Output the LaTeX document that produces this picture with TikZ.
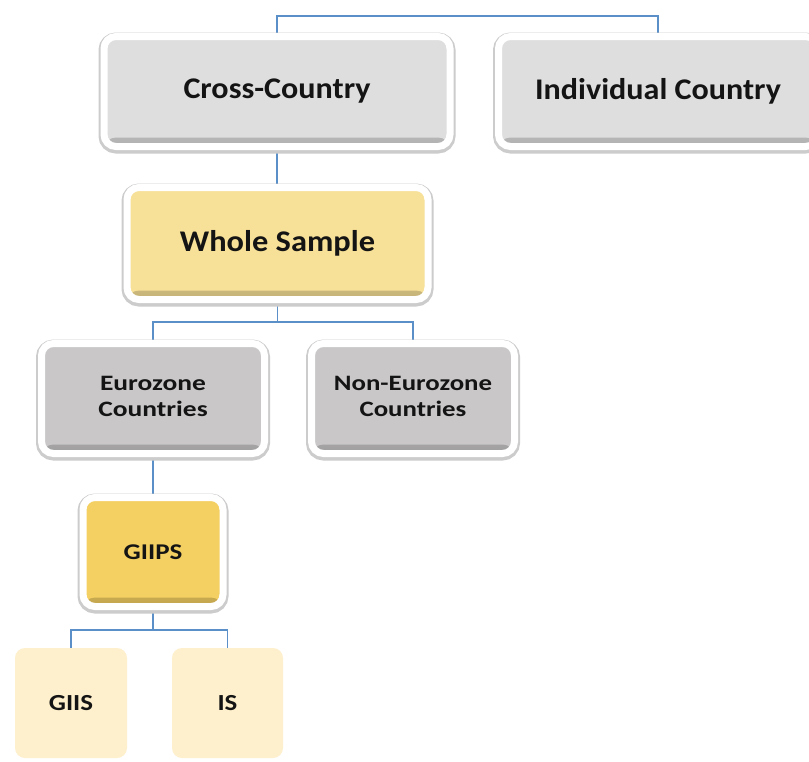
\documentclass[tikz,border=0pt]{standalone}
\usepackage{fontspec}
\setmainfont{Carlito}
\usetikzlibrary{backgrounds}
\definecolor{conncol}{HTML}{5B8FC7}
\definecolor{grayA}{HTML}{DEDEDE}
\definecolor{grayB}{HTML}{C9C7C8}
\definecolor{yelA}{HTML}{F7E097}
\definecolor{yelB}{HTML}{F4D062}
\definecolor{yelC}{HTML}{FEF0CC}
\definecolor{txt}{HTML}{141414}
\newcommand{\stretchtxt}[2]{\scalebox{#1}[1]{#2}}
\tikzset{
  conn/.style={draw=conncol, line width=1.3pt},
  boxbase/.style={rectangle, rounded corners=12pt, draw=white, line width=7pt,
    text=txt, font=\bfseries, align=center, inner sep=0pt,
    preaction={draw=black!20, line width=11pt, transform canvas={yshift=-1.5pt}},
    path picture={\shade[top color=#1, bottom color=#1!80!black]
      ([yshift=9pt]path picture bounding box.south west) rectangle (path picture bounding box.south east);},
    fill=#1},
  lightbox/.style={rectangle, rounded corners=10pt, fill=yelC, draw=none,
    text=txt, font=\bfseries, align=center, inner sep=0pt,
    minimum width=112pt, minimum height=110pt},
}
\begin{document}
\begin{tikzpicture}[x=1pt, y=-1pt]
\clip (0,0) rectangle (809,761);
\node[boxbase=grayA, minimum width=346pt, minimum height=110pt, font=\bfseries\fontsize{30}{32}\selectfont] (cc) at (277,91.5) {\stretchtxt{1.07}{Cross-Country}};
\node[boxbase=grayA, minimum width=319pt, minimum height=110pt, font=\bfseries\fontsize{30}{32}\selectfont] (ic) at (658,91.5) {\stretchtxt{1.07}{Individual Country}};
\node[boxbase=yelA, minimum width=301pt, minimum height=112pt, font=\bfseries\fontsize{30}{32}\selectfont] (ws) at (277.5,243.5) {\stretchtxt{1.08}{Whole Sample}};
\node[boxbase=grayB, minimum width=223pt, minimum height=110pt, font=\bfseries\fontsize{22}{26}\selectfont] (ez) at (153,398.5) {\stretchtxt{1.25}{\begin{tabular}{@{}c@{}}Eurozone\\Countries\end{tabular}}};
\node[boxbase=grayB, minimum width=203pt, minimum height=110pt, font=\bfseries\fontsize{22}{26}\selectfont] (nez) at (413,398.5) {\stretchtxt{1.22}{\begin{tabular}{@{}c@{}}Non-Eurozone\\Countries\end{tabular}}};
\node[boxbase=yelB, minimum width=140pt, minimum height=109pt, font=\bfseries\fontsize{22.5}{28}\selectfont] (giips) at (153,552) {\stretchtxt{1.2}{GIIPS}};
\node[lightbox, font=\bfseries\fontsize{23}{28}\selectfont] (giis) at (71,703) {\stretchtxt{1.17}{GIIS}};
\node[lightbox, minimum width=111pt, font=\bfseries\fontsize{23}{28}\selectfont] (is) at (227.5,703) {\stretchtxt{1.17}{IS}};
\coordinate (top) at (0,16);
\coordinate (lv2) at (0,322);
\coordinate (lv4) at (0,630);
\begin{scope}[on background layer]
\fill[white] (0,0) rectangle (809,761);
\draw[conn] (cc.north) -- (cc.north |- top) -| (ic.north);
\draw[conn] (cc.south) -- (cc.south |- ws.north);
\draw[conn] (ws.south) -- (ws.south |- lv2) -| (ez.north);
\draw[conn] (ws.south |- lv2) -| (nez.north);
\draw[conn] (ez.south) -- (ez.south |- giips.north);
\draw[conn] (giips.south) -- (giips.south |- lv4) -| (giis.north);
\draw[conn] (giips.south |- lv4) -| (is.north);
\end{scope}
\end{tikzpicture}
\end{document}
